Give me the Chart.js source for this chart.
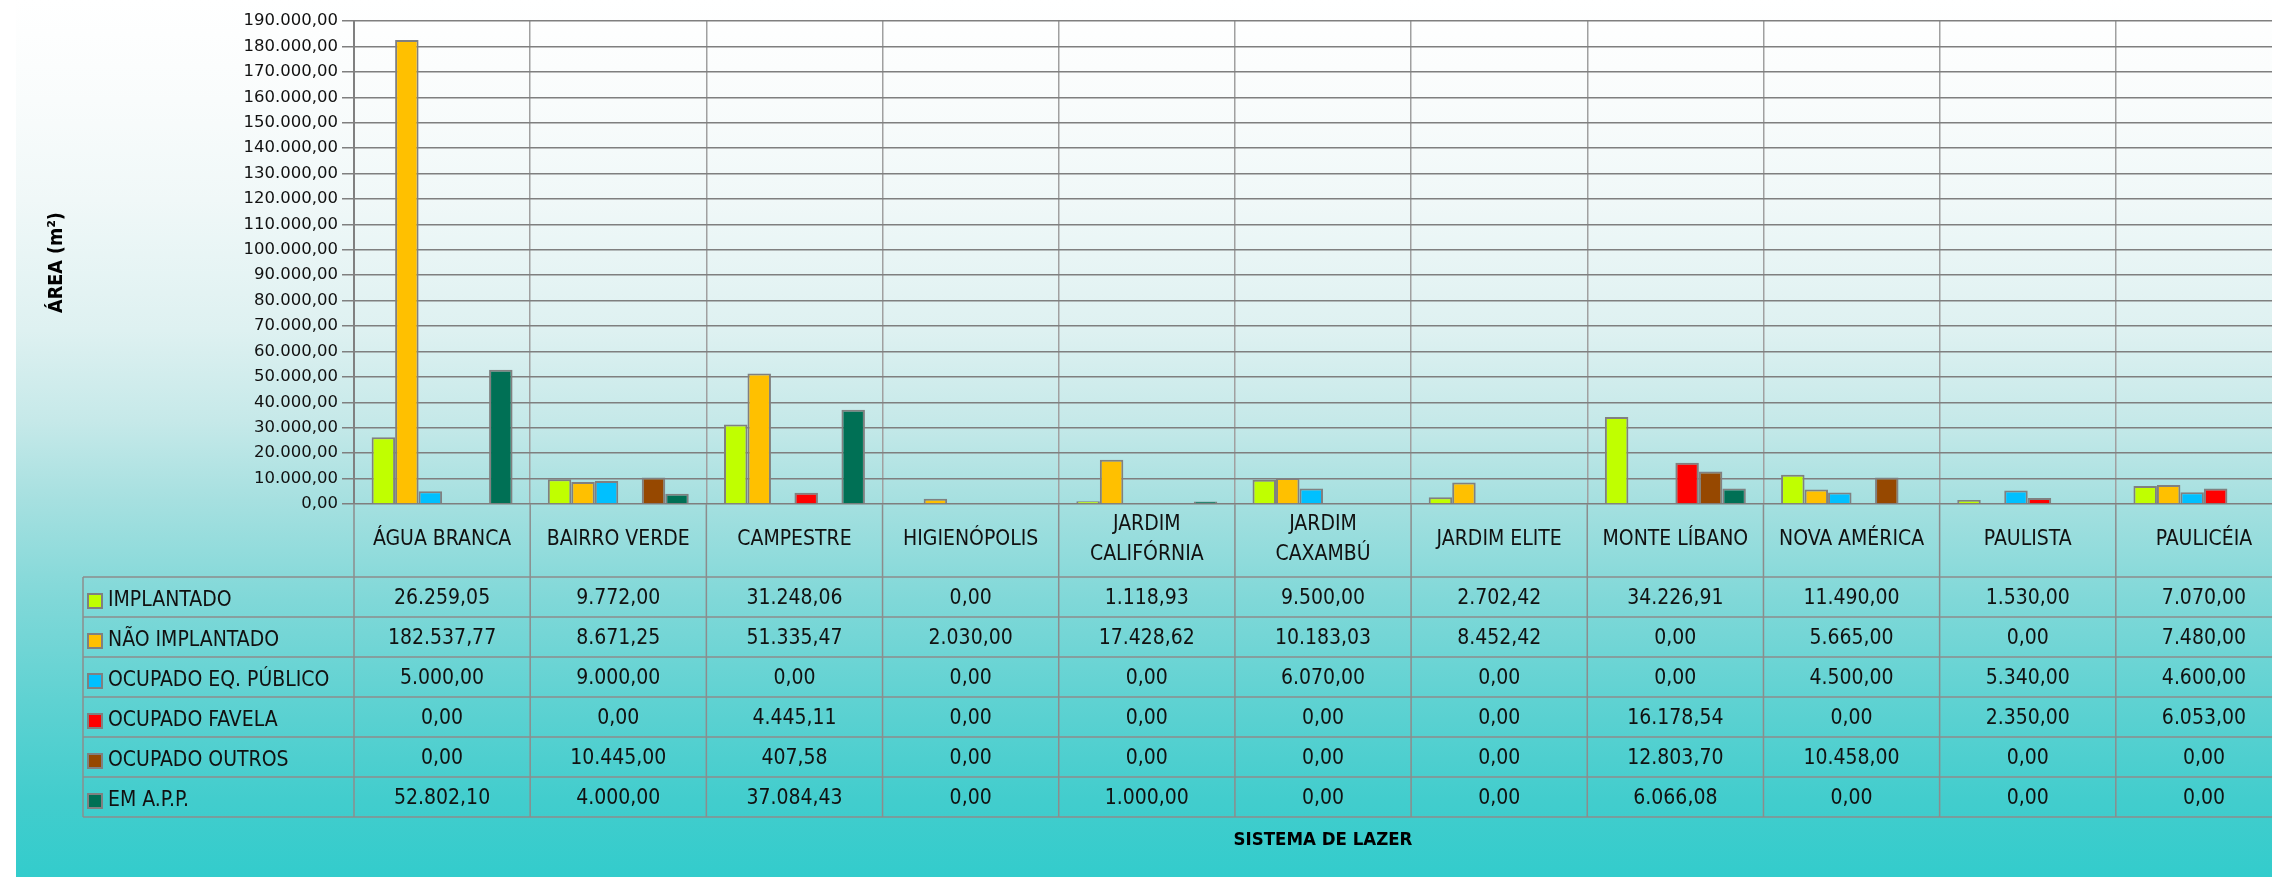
<!DOCTYPE html>
<html>
<head>
<meta charset="utf-8">
<script src="https://cdn.jsdelivr.net/npm/chart.js@4"></script>
<style>
  html, body { margin: 0; padding: 0; background: #fff; overflow: hidden; }
  #wrap { width: 2272px; height: 877px; overflow: hidden; }
  canvas { display: block; }
</style>
</head>
<body>
<div id="wrap"><canvas id="lazerChart" width="2300" height="877"></canvas></div>
<script>
// Sistema de lazer - áreas por bairro (m²)
const categorias = [
    "ÁGUA BRANCA", "BAIRRO VERDE", "CAMPESTRE", "HIGIENÓPOLIS",
    ["JARDIM", "CALIFÓRNIA"], ["JARDIM", "CAXAMBÚ"], "JARDIM ELITE",
    "MONTE LÍBANO", "NOVA AMÉRICA", "PAULISTA", "PAULICÉIA"
];

const implantado       = [26259.05, 9772.00, 31248.06, 0.00, 1118.93, 9500.00, 2702.42, 34226.91, 11490.00, 1530.00, 7070.00];
const naoImplantado    = [182537.77, 8671.25, 51335.47, 2030.00, 17428.62, 10183.03, 8452.42, 0.00, 5665.00, 0.00, 7480.00];
const ocupadoEqPublico = [5000.00, 9000.00, 0.00, 0.00, 0.00, 6070.00, 0.00, 0.00, 4500.00, 5340.00, 4600.00];
const ocupadoFavela    = [0.00, 0.00, 4445.11, 0.00, 0.00, 0.00, 0.00, 16178.54, 0.00, 2350.00, 6053.00];
const ocupadoOutros    = [0.00, 10445.00, 407.58, 0.00, 0.00, 0.00, 0.00, 12803.70, 10458.00, 0.00, 0.00];
const emApp            = [52802.10, 4000.00, 37084.43, 0.00, 1000.00, 0.00, 0.00, 6066.08, 0.00, 0.00, 0.00];

const series = [
    { nome: "IMPLANTADO", dados: implantado, cor: "#C0FF00" },
    { nome: "NÃO IMPLANTADO", dados: naoImplantado, cor: "#FFC000" },
    { nome: "OCUPADO EQ. PÚBLICO", dados: ocupadoEqPublico, cor: "#00C0FF" },
    { nome: "OCUPADO FAVELA", dados: ocupadoFavela, cor: "#FF0000" },
    { nome: "OCUPADO OUTROS", dados: ocupadoOutros, cor: "#964800" },
    { nome: "EM A.P.P.", dados: emApp, cor: "#007055" },
];

const FONTE = '"DejaVu Sans Condensed", "DejaVu Sans", sans-serif';

// 182537.77 -> "182.537,77"
function formatar(v) {
    const [int, dec] = v.toFixed(2).split(".");
    return int.replace(/\B(?=(\d{3})+(?!\d))/g, ".") + "," + dec;
}

// fundo em degradê (branco -> turquesa)
const fundo = {
    id: "fundo",
    beforeDraw(chart) {
        const { ctx, width, height } = chart;
        const g = ctx.createLinearGradient(0, 0, 0, height);
        g.addColorStop(0, "#FFFFFF");
        g.addColorStop(0.114, "#F9FCFC");
        g.addColorStop(0.228, "#F0F8F8");
        g.addColorStop(0.376, "#DEF1F1");
        g.addColorStop(0.479, "#C6E9E9");
        g.addColorStop(0.57, "#A6E0E0");
        g.addColorStop(0.684, "#80D8D8");
        g.addColorStop(0.798, "#5FD2D2");
        g.addColorStop(0.912, "#42CDCD");
        g.addColorStop(1, "#33CCCC");
        ctx.save();
        ctx.fillStyle = g;
        ctx.fillRect(16, 0, width - 16, height);
        ctx.restore();
    },
};

// tabela de dados abaixo do gráfico (como no Excel)
const tabela = {
    id: "tabela",
    afterDraw(chart) {
        const { ctx, chartArea } = chart;
        const x = chart.scales.x;
        const topoCab = chartArea.bottom;
        const topo = topoCab + 73;
        const alt = 40;
        const fundoTab = topo + alt * series.length;
        const esquerda = 83;
        const larg = x.getPixelForValue(1) - x.getPixelForValue(0);

        ctx.save();
        ctx.strokeStyle = "#8C8C8C";
        ctx.lineWidth = 1.5;

        // linhas horizontais
        for (let i = 0; i <= series.length; i++) {
            const y = topo + alt * i;
            ctx.beginPath();
            ctx.moveTo(esquerda, y);
            ctx.lineTo(chartArea.right, y);
            ctx.stroke();
        }
        // linhas verticais
        ctx.beginPath();
        ctx.moveTo(esquerda, topo);
        ctx.lineTo(esquerda, fundoTab);
        ctx.stroke();
        for (let j = 0; j <= categorias.length; j++) {
            const xx = x.getPixelForValue(j) - larg / 2;
            ctx.beginPath();
            ctx.moveTo(xx, topoCab);
            ctx.lineTo(xx, fundoTab);
            ctx.stroke();
        }

        ctx.font = "21px " + FONTE;
        ctx.textBaseline = "middle";
        ctx.fillStyle = "#111";

        series.forEach((s, i) => {
            const yc = topo + alt * i + alt / 2;
            // legenda
            ctx.fillStyle = "#808080";
            ctx.fillRect(87, yc - 4, 16, 16);
            ctx.fillStyle = s.cor;
            ctx.fillRect(89, yc - 2, 12, 12);
            ctx.fillStyle = "#111";
            ctx.textAlign = "left";
            ctx.fillText(s.nome, 108, yc + 4);
            // valores
            ctx.textAlign = "center";
            s.dados.forEach((v, j) => {
                ctx.fillText(formatar(v), x.getPixelForValue(j), yc + 1.5);
            });
        });
        ctx.restore();
    },
};

new Chart(document.getElementById("lazerChart"), {
    type: "bar",
    data: {
        labels: categorias,
        datasets: series.map((s) => ({
            label: s.nome,
            data: s.dados,
            backgroundColor: s.cor,
            borderColor: "#808080",
            borderWidth: 2,
            categoryPercentage: 0.8,
            barPercentage: 1.0,
        })),
    },
    options: {
        responsive: false,
        animation: false,
        devicePixelRatio: 1,
        layout: { padding: { left: 0, top: 21, right: 8, bottom: 0 } },
        plugins: {
            legend: { display: false },
            tooltip: { enabled: false },
        },
        scales: {
            x: {
                afterFit: (scale) => { scale.height = 373; },
                grid: { color: "#A0A0A0", lineWidth: 1.5, drawTicks: false, offset: true },
                border: { display: false },
                ticks: {
                    autoSkip: false,
                    maxRotation: 0,
                    padding: 21,
                    crossAlign: "center",
                    color: "#111",
                    font: { family: FONTE, size: 21, lineHeight: 1.43 },
                },
                title: {
                    display: true,
                    text: "SISTEMA DE LAZER",
                    color: "#000",
                    font: { family: FONTE, size: 18.5, weight: "bold" },
                    padding: { top: 0, bottom: 26 },
                },
            },
            y: {
                min: 0,
                max: 190000,
                afterFit: (scale) => { scale.width = 354; },
                grid: { color: "#7F7F7F", lineWidth: 1.5, tickLength: 12 },
                border: { display: true, color: "#808080", width: 2 },
                ticks: {
                    stepSize: 10000,
                    padding: 4,
                    color: "#111",
                    font: { family: '"DejaVu Sans", sans-serif', size: 16.5 },
                    callback: (v) => formatar(v),
                },
                title: {
                    display: true,
                    text: "ÁREA (m²)",
                    color: "#000",
                    font: { family: FONTE, size: 19.5, weight: "bold" },
                    padding: { top: 45, bottom: 0 },
                },
            },
        },
    },
    plugins: [fundo, tabela],
});
</script>
</body>
</html>
